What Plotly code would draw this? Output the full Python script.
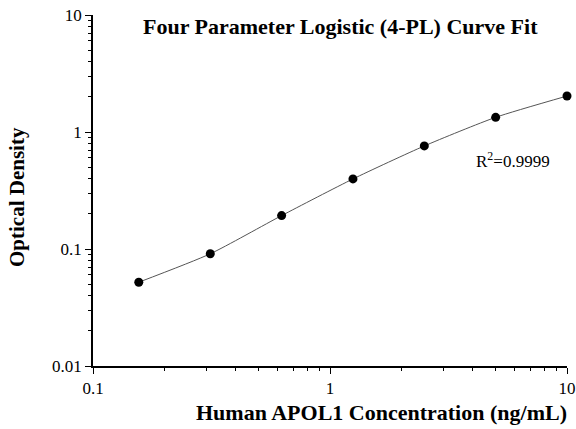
import plotly.graph_objects as go

# Data
concentration = [0.156, 0.3125, 0.625, 1.25, 2.5, 5, 10]
optical_density = [0.052, 0.091, 0.193, 0.397, 0.76, 1.335, 2.03]
y_tickvals = [0.01, 0.1, 1, 10]
y_ticktext = ["0.01", "0.1", "1", "10"]
x_tickvals = [0.1, 1, 10]
x_ticktext = ["0.1", "1", "10"]

FONT = "Liberation Serif"
W, H = 576, 429
L, R, T, B = 93, 9, 15, 63
PW, PH = W - L - R, H - T - B


def px(x):
    return (x - L) / PW


def py(y):
    return (H - B - y) / PH


fig = go.Figure()
fig.add_trace(go.Scatter(
    x=concentration, y=optical_density, mode="lines",
    line=dict(color="#555555", width=1, shape="spline", smoothing=0.6),
    hoverinfo="skip", showlegend=False))
fig.add_trace(go.Scatter(
    x=concentration, y=optical_density, mode="markers",
    marker=dict(color="black", size=9),
    showlegend=False, cliponaxis=False))

axis_common = dict(
    type="log", showgrid=False, zeroline=False, showline=True,
    linecolor="black", linewidth=1.5, ticks="outside", ticklen=6,
    tickwidth=1.2, tickcolor="black", automargin=False,
    tickfont=dict(family=FONT, size=17, color="black"),
    minor=dict(ticks="outside", ticklen=3, tickwidth=1, tickcolor="black",
               dtick="D1", showgrid=False),
)

fig.update_xaxes(range=[-1, 1], tickvals=x_tickvals, ticktext=x_ticktext, **axis_common)
fig.update_yaxes(range=[-2, 1], tickvals=y_tickvals, ticktext=y_ticktext, **axis_common)

fig.update_layout(
    width=W, height=H,
    margin=dict(l=L, r=R, t=T, b=B, autoexpand=False),
    paper_bgcolor="white", plot_bgcolor="white",
    annotations=[
        dict(text="<b>Four Parameter Logistic (4-PL) Curve Fit</b>", xref="paper", yref="paper",
             x=px(340), y=py(27), xanchor="center", yanchor="middle",
             font=dict(family=FONT, size=22, color="black"), showarrow=False),
        dict(text="<b>Human APOL1 Concentration (ng/mL)</b>", xref="paper", yref="paper",
             x=px(381), y=py(412), xanchor="center", yanchor="middle",
             font=dict(family=FONT, size=22, color="black"), showarrow=False),
        dict(text="<b>Optical Density</b>", xref="paper", yref="paper",
             x=px(17), y=py(197), xanchor="center", yanchor="middle", textangle=-90,
             font=dict(family=FONT, size=21, color="black"), showarrow=False),
        dict(text="R<sup>2</sup>=0.9999", xref="paper", yref="paper",
             x=px(513), y=py(160), xanchor="center", yanchor="middle",
             font=dict(family=FONT, size=17, color="black"), showarrow=False),
    ],
)

fig.write_html("out.html", config={"displayModeBar": False},
               post_script="document.body.style.margin='0px';")
